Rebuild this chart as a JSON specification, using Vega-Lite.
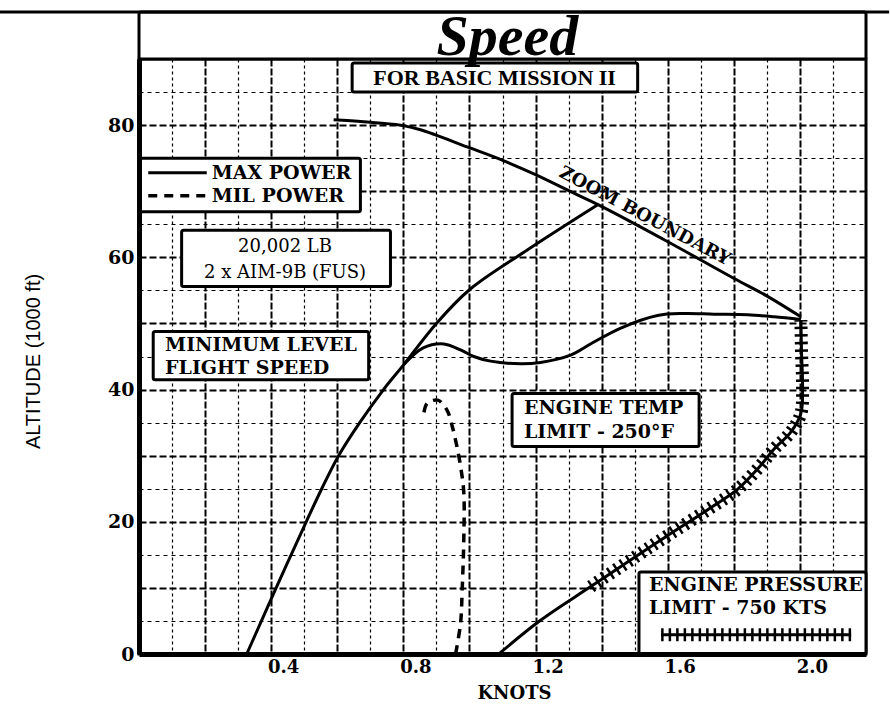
{
  "$schema": "https://vega.github.io/schema/vega-lite/v6.json",
  "width": 727,
  "height": 595,
  "autosize": {"type": "none"},
  "padding": {"left": 139, "top": 59, "right": 24, "bottom": 55},
  "background": "white",
  "config": {
    "view": {"stroke": "black", "strokeWidth": 3},
    "font": "DejaVu Serif",
    "axis": {"labelColor": "black", "titleColor": "black", "domainColor": "black"}
  },
  "datasets": {
    "curves": [
      {"s": "zoom", "i": 1, "x": 0.589, "y": 80.8},
      {"s": "zoom", "i": 2, "x": 0.68, "y": 80.5},
      {"s": "zoom", "i": 3, "x": 0.791, "y": 80.0},
      {"s": "zoom", "i": 4, "x": 0.852, "y": 79.3},
      {"s": "zoom", "i": 5, "x": 0.993, "y": 76.7},
      {"s": "zoom", "i": 6, "x": 1.099, "y": 74.7},
      {"s": "zoom", "i": 7, "x": 1.2, "y": 72.5},
      {"s": "zoom", "i": 8, "x": 1.316, "y": 69.7},
      {"s": "zoom", "i": 9, "x": 1.392, "y": 67.9},
      {"s": "zoom", "i": 10, "x": 1.599, "y": 62.4},
      {"s": "zoom", "i": 11, "x": 1.801, "y": 56.8},
      {"s": "zoom", "i": 12, "x": 1.902, "y": 54.1},
      {"s": "zoom", "i": 13, "x": 2.003, "y": 51.0},
      {"s": "minlevel", "i": 1, "x": 0.326, "y": 0},
      {"s": "minlevel", "i": 2, "x": 0.415, "y": 10},
      {"s": "minlevel", "i": 3, "x": 0.506, "y": 20},
      {"s": "minlevel", "i": 4, "x": 0.553, "y": 25},
      {"s": "minlevel", "i": 5, "x": 0.604, "y": 30},
      {"s": "minlevel", "i": 6, "x": 0.668, "y": 35},
      {"s": "minlevel", "i": 7, "x": 0.74, "y": 40},
      {"s": "minlevel", "i": 8, "x": 0.80, "y": 43.7},
      {"s": "minlevel", "i": 9, "x": 0.9, "y": 50},
      {"s": "minlevel", "i": 10, "x": 1.0, "y": 55.1},
      {"s": "minlevel", "i": 11, "x": 1.175, "y": 61.1},
      {"s": "minlevel", "i": 12, "x": 1.387, "y": 67.9},
      {"s": "maxpower", "i": 1, "x": 0.80, "y": 43.7},
      {"s": "maxpower", "i": 2, "x": 0.86, "y": 46.3},
      {"s": "maxpower", "i": 3, "x": 0.922, "y": 46.9},
      {"s": "maxpower", "i": 4, "x": 0.973, "y": 46.0},
      {"s": "maxpower", "i": 5, "x": 1.013, "y": 45.0},
      {"s": "maxpower", "i": 6, "x": 1.064, "y": 44.3},
      {"s": "maxpower", "i": 7, "x": 1.155, "y": 43.9},
      {"s": "maxpower", "i": 8, "x": 1.215, "y": 44.1},
      {"s": "maxpower", "i": 9, "x": 1.306, "y": 45.2},
      {"s": "maxpower", "i": 10, "x": 1.37, "y": 47.0},
      {"s": "maxpower", "i": 11, "x": 1.458, "y": 49.3},
      {"s": "maxpower", "i": 12, "x": 1.569, "y": 51.2},
      {"s": "maxpower", "i": 13, "x": 1.65, "y": 51.5},
      {"s": "maxpower", "i": 14, "x": 1.74, "y": 51.4},
      {"s": "maxpower", "i": 15, "x": 1.842, "y": 51.3},
      {"s": "maxpower", "i": 16, "x": 1.922, "y": 51.0},
      {"s": "maxpower", "i": 17, "x": 2.003, "y": 50.6},
      {"s": "mil", "i": 1, "x": 0.958, "y": 0},
      {"s": "mil", "i": 2, "x": 0.973, "y": 4.6},
      {"s": "mil", "i": 3, "x": 0.978, "y": 9.7},
      {"s": "mil", "i": 4, "x": 0.983, "y": 17.7},
      {"s": "mil", "i": 5, "x": 0.983, "y": 24.3},
      {"s": "mil", "i": 6, "x": 0.975, "y": 27.8},
      {"s": "mil", "i": 7, "x": 0.962, "y": 31.4},
      {"s": "mil", "i": 8, "x": 0.948, "y": 34.4},
      {"s": "mil", "i": 9, "x": 0.932, "y": 36.9},
      {"s": "mil", "i": 10, "x": 0.904, "y": 38.4},
      {"s": "mil", "i": 11, "x": 0.872, "y": 37.9},
      {"s": "mil", "i": 12, "x": 0.862, "y": 36.4},
      {"s": "pressure", "i": 1, "x": 1.089, "y": 0},
      {"s": "pressure", "i": 2, "x": 1.215, "y": 5.1},
      {"s": "pressure", "i": 3, "x": 1.367, "y": 10.2},
      {"s": "pressure", "i": 4, "x": 1.508, "y": 14.9},
      {"s": "pressure", "i": 5, "x": 1.599, "y": 17.9},
      {"s": "pressure", "i": 6, "x": 1.72, "y": 21.8},
      {"s": "pressure", "i": 7, "x": 1.811, "y": 24.9},
      {"s": "pressure", "i": 8, "x": 1.872, "y": 28.0},
      {"s": "pressure", "i": 9, "x": 1.922, "y": 31.0},
      {"s": "pressure", "i": 10, "x": 1.973, "y": 33.6},
      {"s": "pressure", "i": 11, "x": 2.003, "y": 36.4},
      {"s": "pressure", "i": 12, "x": 2.008, "y": 40.4},
      {"s": "pressure", "i": 13, "x": 2.005, "y": 45.5},
      {"s": "pressure", "i": 14, "x": 2.003, "y": 50.5},
      {"s": "legend_max", "i": 1, "x": 0.028, "y": 72.8},
      {"s": "legend_max", "i": 2, "x": 0.205, "y": 72.8},
      {"s": "legend_mil", "i": 1, "x": 0.028, "y": 69.3},
      {"s": "legend_mil", "i": 2, "x": 0.205, "y": 69.3},
      {"s": "sample", "i": 1, "x": 1.58, "y": 2.9},
      {"s": "sample", "i": 2, "x": 2.155, "y": 2.9}
    ],
    "boxes": [
      {"b": "title", "x": 0, "x2": 2.2, "y": 90, "y2": 97.1},
      {"b": "mission", "x": 0.645, "x2": 1.509, "y": 85.0, "y2": 89.4},
      {"b": "legend", "x": 0.003, "x2": 0.67, "y": 66.9, "y2": 75.0},
      {"b": "weight", "x": 0.129, "x2": 0.761, "y": 55.6, "y2": 64.1},
      {"b": "minlevel", "x": 0.043, "x2": 0.695, "y": 41.5, "y2": 48.8},
      {"b": "temp", "x": 1.129, "x2": 1.695, "y": 31.4, "y2": 39.4},
      {"b": "pressure", "x": 1.513, "x2": 2.2, "y": 0, "y2": 12.4}
    ],
    "toprule": [
      {"x": -0.43, "x2": 2.27, "y": 97.1}
    ],
    "boldtext": [
      {"t": "MAX POWER", "x": 0.22, "y": 72.8},
      {"t": "MIL POWER", "x": 0.22, "y": 69.3},
      {"t": "MINIMUM LEVEL", "x": 0.079, "y": 46.7},
      {"t": "FLIGHT SPEED", "x": 0.079, "y": 43.2},
      {"t": "ENGINE TEMP", "x": 1.165, "y": 37.2},
      {"t": "LIMIT - 250°F", "x": 1.165, "y": 33.6},
      {"t": "ENGINE PRESSURE", "x": 1.543, "y": 10.4},
      {"t": "LIMIT - 750 KTS", "x": 1.543, "y": 6.9}
    ],
    "weighttext": [
      {"t": "20,002 LB", "x": 0.442, "y": 61.6},
      {"t": "2 x AIM-9B (FUS)", "x": 0.442, "y": 57.6}
    ],
    "mission": [
      {"t": "FOR BASIC MISSION II", "x": 1.076, "y": 87.2}
    ],
    "zoomlabel": [
      {"t": "ZOOM BOUNDARY", "x": 1.53, "y": 66.2}
    ],
    "title": [
      {"t": "Speed", "x": 1.115, "y": 90.6}
    ]
  },
  "resolve": {"axis": {"x": "independent", "y": "independent"}},
  "layer": [
    {
      "data": {"name": "boxes"},
      "mark": {"type": "rect", "fill": "white", "stroke": "black", "strokeWidth": 3, "cornerRadius": 2},
      "encoding": {
        "x": {"field": "x", "type": "quantitative", "scale": {"domain": [0, 2.2], "nice": false},
          "axis": {"orient": "bottom", "values": [0.1, 0.3, 0.5, 0.7, 0.9, 1.1, 1.3, 1.5, 1.7, 1.9, 2.1], "grid": true, "gridColor": "black", "gridDash": [3, 3], "gridWidth": 1.2, "gridOpacity": 1, "labels": false, "ticks": false, "domain": false, "title": null}},
        "x2": {"field": "x2"},
        "y": {"field": "y", "type": "quantitative", "scale": {"domain": [0, 90], "nice": false},
          "axis": {"orient": "left", "values": [5, 15, 25, 35, 45, 55, 65, 75, 85], "grid": true, "gridColor": "black", "gridDash": [4, 4], "gridWidth": 1.2, "gridOpacity": 1, "labels": false, "ticks": false, "domain": false, "title": null}},
        "y2": {"field": "y2"}
      }
    },
    {
      "data": {"name": "toprule"},
      "mark": {"type": "rule", "color": "black", "strokeWidth": 3},
      "encoding": {
        "x": {"field": "x", "type": "quantitative", "scale": {"domain": [0, 2.2], "nice": false}, "axis": null},
        "x2": {"field": "x2"},
        "y": {"field": "y", "type": "quantitative", "scale": {"domain": [0, 90], "nice": false}, "axis": null}
      }
    },
    {
      "data": {"name": "curves"},
      "transform": [{"filter": "datum.s !== 'mil' && datum.s !== 'legend_mil'"}],
      "mark": {"type": "line", "color": "black", "strokeWidth": 3, "interpolate": "catmull-rom"},
      "encoding": {
        "x": {"field": "x", "type": "quantitative", "scale": {"domain": [0, 2.2], "nice": false},
          "axis": {"orient": "bottom", "values": [0.2, 0.4, 0.6, 0.8, 1.0, 1.2, 1.4, 1.6, 1.8, 2.0], "grid": true, "gridColor": "black", "gridDash": [7, 2], "gridWidth": 2, "gridOpacity": 1, "labels": false, "ticks": false, "domain": false, "title": null}},
        "y": {"field": "y", "type": "quantitative", "scale": {"domain": [0, 90], "nice": false},
          "axis": {"orient": "left", "values": [10, 20, 30, 40, 50, 60, 70, 80], "grid": true, "gridColor": "black", "gridDash": [7, 3], "gridWidth": 2, "gridOpacity": 1, "labels": false, "ticks": false, "domain": false, "title": null}},
        "detail": {"field": "s"},
        "order": {"field": "i", "type": "quantitative"}
      }
    },
    {
      "data": {"name": "curves"},
      "transform": [{"filter": "datum.s === 'mil' || datum.s === 'legend_mil'"}],
      "mark": {"type": "line", "color": "black", "strokeWidth": 3.5, "strokeDash": [9, 7], "interpolate": "catmull-rom"},
      "encoding": {
        "x": {"field": "x", "type": "quantitative", "scale": {"domain": [0, 2.2], "nice": false},
          "axis": {"orient": "bottom", "values": [0.4, 0.8, 1.2, 1.6, 2.0], "format": ".1f", "grid": false, "ticks": false, "domain": true, "domainWidth": 5, "domainColor": "black", "labelFont": "DejaVu Serif", "labelFontWeight": "bold", "labelFontSize": 18, "labelOffset": 12, "labelPadding": 4, "title": "KNOTS", "titleFont": "DejaVu Serif", "titleFontWeight": "bold", "titleFontSize": 18, "titlePadding": 8, "titleX": 375, "zindex": 1}},
        "y": {"field": "y", "type": "quantitative", "scale": {"domain": [0, 90], "nice": false},
          "axis": {"orient": "left", "values": [0, 20, 40, 60, 80], "grid": false, "ticks": false, "domain": true, "domainWidth": 5, "domainColor": "black", "labelFont": "DejaVu Serif", "labelFontWeight": "bold", "labelFontSize": 19, "labelPadding": 5, "title": "ALTITUDE (1000 ft)", "titleFont": "Liberation Sans", "titleFontWeight": "normal", "titleFontSize": 20, "titleAngle": 270, "titleAlign": "center", "titleBaseline": "middle", "titleX": -106, "titleY": 302, "zindex": 1}},
        "detail": {"field": "s"},
        "order": {"field": "i", "type": "quantitative"}
      }
    },
    {
      "data": {"name": "curves"},
      "transform": [{"filter": "(datum.s === 'pressure' && datum.y >= 10) || datum.s === 'sample'"}],
      "mark": {"type": "line", "color": "black", "strokeWidth": 13, "strokeDash": [2.5, 5], "interpolate": "catmull-rom"},
      "encoding": {
        "x": {"field": "x", "type": "quantitative", "scale": {"domain": [0, 2.2], "nice": false}, "axis": null},
        "y": {"field": "y", "type": "quantitative", "scale": {"domain": [0, 90], "nice": false}, "axis": null},
        "detail": {"field": "s"},
        "order": {"field": "i", "type": "quantitative"}
      }
    },
    {
      "data": {"name": "boldtext"},
      "mark": {"type": "text", "font": "DejaVu Serif", "fontWeight": "bold", "fontSize": 19, "align": "left", "baseline": "middle", "color": "black"},
      "encoding": {
        "x": {"field": "x", "type": "quantitative", "scale": {"domain": [0, 2.2], "nice": false}, "axis": null},
        "y": {"field": "y", "type": "quantitative", "scale": {"domain": [0, 90], "nice": false}, "axis": null},
        "text": {"field": "t"}
      }
    },
    {
      "data": {"name": "weighttext"},
      "mark": {"type": "text", "font": "DejaVu Serif", "fontWeight": "normal", "fontSize": 18, "align": "center", "baseline": "middle", "color": "black"},
      "encoding": {
        "x": {"field": "x", "type": "quantitative", "scale": {"domain": [0, 2.2], "nice": false}, "axis": null},
        "y": {"field": "y", "type": "quantitative", "scale": {"domain": [0, 90], "nice": false}, "axis": null},
        "text": {"field": "t"}
      }
    },
    {
      "data": {"name": "mission"},
      "mark": {"type": "text", "font": "Liberation Serif", "fontWeight": "bold", "fontSize": 22, "align": "center", "baseline": "middle", "color": "black"},
      "encoding": {
        "x": {"field": "x", "type": "quantitative", "scale": {"domain": [0, 2.2], "nice": false}, "axis": null},
        "y": {"field": "y", "type": "quantitative", "scale": {"domain": [0, 90], "nice": false}, "axis": null},
        "text": {"field": "t"}
      }
    },
    {
      "data": {"name": "zoomlabel"},
      "mark": {"type": "text", "font": "DejaVu Serif", "fontWeight": "bold", "fontSize": 18, "align": "center", "baseline": "middle", "angle": 28, "color": "black"},
      "encoding": {
        "x": {"field": "x", "type": "quantitative", "scale": {"domain": [0, 2.2], "nice": false}, "axis": null},
        "y": {"field": "y", "type": "quantitative", "scale": {"domain": [0, 90], "nice": false}, "axis": null},
        "text": {"field": "t"}
      }
    },
    {
      "data": {"name": "title"},
      "mark": {"type": "text", "font": "Liberation Serif", "fontWeight": "bold", "fontStyle": "italic", "fontSize": 58, "align": "center", "baseline": "alphabetic", "color": "black"},
      "encoding": {
        "x": {"field": "x", "type": "quantitative", "scale": {"domain": [0, 2.2], "nice": false}, "axis": null},
        "y": {"field": "y", "type": "quantitative", "scale": {"domain": [0, 90], "nice": false}, "axis": null},
        "text": {"field": "t"}
      }
    }
  ]
}
